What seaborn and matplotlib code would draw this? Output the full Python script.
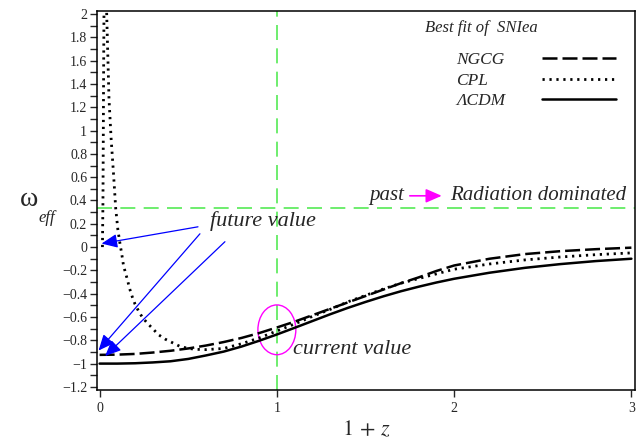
import matplotlib
matplotlib.use("Agg")
import matplotlib.pyplot as plt
from matplotlib.patches import Ellipse
from matplotlib.ticker import MultipleLocator
import seaborn as sns

# values (x = 1 + z, y = omega_eff)
x_grid = [0.0, 0.1, 0.2, 0.3, 0.4, 0.5, 0.6, 0.7, 0.8, 0.9, 1.0, 1.1, 1.2, 1.3,
          1.4, 1.5, 1.6, 1.7, 1.8, 1.9, 2.0, 2.2, 2.4, 2.6, 2.8, 3.0]
w_ngcg = [-0.925, -0.923, -0.917, -0.905, -0.89, -0.87, -0.845, -0.815, -0.78,
          -0.738, -0.69, -0.64, -0.585, -0.53, -0.475, -0.42, -0.365, -0.31,
          -0.26, -0.205, -0.158, -0.10, -0.06, -0.035, -0.018, -0.005]
w_lcdm = [-1.0, -1.0, -0.997, -0.99, -0.98, -0.96, -0.93, -0.897, -0.854,
          -0.804, -0.75, -0.693, -0.635, -0.577, -0.522, -0.471, -0.423, -0.379,
          -0.34, -0.304, -0.272, -0.22, -0.178, -0.146, -0.12, -0.10]
x_cpl = [0.016, 0.019, 0.021, 0.023, 0.025, 0.03, 0.036, 0.04, 0.053, 0.065,
         0.078, 0.091, 0.103, 0.115, 0.125, 0.134, 0.144, 0.157, 0.168, 0.185,
         0.2, 0.22, 0.24, 0.27, 0.3, 0.33, 0.37, 0.41, 0.45, 0.5, 0.55, 0.6,
         0.7, 0.8, 0.9, 1.0, 1.1, 1.2, 1.3, 1.4, 1.5, 1.6, 1.7, 1.8, 1.9, 2.0,
         2.2, 2.4, 2.6, 2.8, 3.0]
w_cpl = [0.0, 0.4, 1.0, 1.6, 2.1, 2.8, 2.3, 2.0, 1.27, 0.93, 0.64, 0.33, 0.15,
         0.03, -0.06, -0.15, -0.21, -0.28, -0.35, -0.43, -0.49, -0.55, -0.60,
         -0.655, -0.70, -0.75, -0.79, -0.82, -0.85, -0.87, -0.878, -0.88,
         -0.87, -0.83, -0.78, -0.72, -0.66, -0.595, -0.535, -0.47, -0.415,
         -0.36, -0.31, -0.27, -0.23, -0.19, -0.145, -0.11, -0.085, -0.065, -0.05]

w_radiation = 1 / 3
x_today = 1.0
y_ticks = [round(-1.2 + 0.2 * i, 1) for i in range(17)]

# arrows pointing at the future values: (tip, tail)
future_arrows = [((0.011, 0.03), (0.555, 0.174)),
                 ((-0.006, -0.888), (0.566, 0.114)),
                 ((0.031, -0.935), (0.707, 0.046))]

sns.set_style("ticks")
plt.rcParams["font.family"] = ["Liberation Serif", "DejaVu Serif"]
plt.rcParams["mathtext.fontset"] = "stix"

fig = plt.figure(figsize=(6.42, 4.45), dpi=100)
ax = fig.add_axes([0.151, 0.124, 0.838, 0.851])

green = "#55ea55"
ax.axhline(w_radiation, color=green, lw=1.2, linestyle=(0, (9, 5)), zorder=1)
ax.axvline(x_today, color=green, lw=1.2, linestyle=(0, (9, 5)), zorder=1)

sns.lineplot(x=x_grid, y=w_ngcg, ax=ax, color="black", lw=1.8,
             linestyle=(0, (6, 2)), label="NGCG")
sns.lineplot(x=x_cpl, y=w_cpl, ax=ax, color="black", lw=2.0,
             linestyle=(0, (0.8, 1.7)), label="CPL")
sns.lineplot(x=x_grid, y=w_lcdm, ax=ax, color="black", lw=1.8,
             linestyle="-", label="ΛCDM")
for ln in ax.get_lines():
    ln.set_dash_capstyle("butt")

ax.set_xlim(-0.015, 3.02)
ax.set_ylim(-1.225, 2.025)
ax.set_xticks([0, 1, 2, 3])
ax.set_yticks(y_ticks)
ax.set_yticklabels([f"{v:g}".replace("-", "\u2212") for v in y_ticks])
ax.yaxis.set_minor_locator(MultipleLocator(0.1))
ax.tick_params(axis="y", which="both", direction="out", length=5, width=1,
               labelsize=10, pad=2)
ax.tick_params(axis="x", direction="out", length=5, width=1, labelsize=10)
for sp in ax.spines.values():
    sp.set_linewidth(1.1)
    sp.set_color("black")

ax.set_xlabel("$1\\,+\\,z$", fontsize=16, labelpad=4)
ax.set_ylabel("")
fig.text(0.045, 0.551, "ω", fontsize=20, ha="center", va="center")
fig.text(0.073, 0.51, "eff", fontsize=12, style="italic", ha="center", va="center")

# legend: labels left, key lines right, labels left-aligned
leg = ax.legend(loc="upper right", bbox_to_anchor=(0.988, 0.924), frameon=False,
                markerfirst=False, handlelength=4.3, handletextpad=2.1,
                labelspacing=0.25, borderpad=0.2,
                prop={"style": "italic", "size": 12.5})
renderer = fig.canvas.get_renderer()
col = leg._legend_handle_box.get_children()[0]
col.align = "left"
items = col.get_children()
widths = [it.get_children()[0].get_window_extent(renderer).width for it in items]
for it, w in zip(items, widths):
    it.sep = it.sep + (max(widths) - w) * 72 / fig.dpi
ax.text(0.61, 0.955, "Best fit of  SNIea", transform=ax.transAxes,
        fontsize=12, style="italic", ha="left", va="center")

for tip, tail in future_arrows:
    ax.annotate("", xy=tip, xytext=tail,
                arrowprops=dict(arrowstyle="-|>,head_length=0.8,head_width=0.35",
                                color="blue", lw=0.9, shrinkA=0, shrinkB=0,
                                mutation_scale=12))
ax.text(0.62, 0.22, "future value", fontsize=16, style="italic",
        ha="left", va="center")

ax.text(1.72, 0.44, "past", fontsize=15, style="italic", ha="right", va="center")
ax.annotate("", xy=(1.93, 0.44), xytext=(1.75, 0.44),
            arrowprops=dict(arrowstyle="-|>,head_length=0.8,head_width=0.35",
                            color="magenta", lw=1.2, shrinkA=0, shrinkB=0,
                            mutation_scale=12))
ax.text(1.975, 0.44, "Radiation dominated", fontsize=15, style="italic",
        ha="left", va="center")

ax.add_patch(Ellipse((1.0, -0.71), 0.214, 0.427, fill=False,
                     edgecolor="magenta", lw=1.0))
ax.text(1.09, -0.88, "current value", fontsize=16, style="italic",
        ha="left", va="center")

fig.savefig("out.png", dpi=100)
